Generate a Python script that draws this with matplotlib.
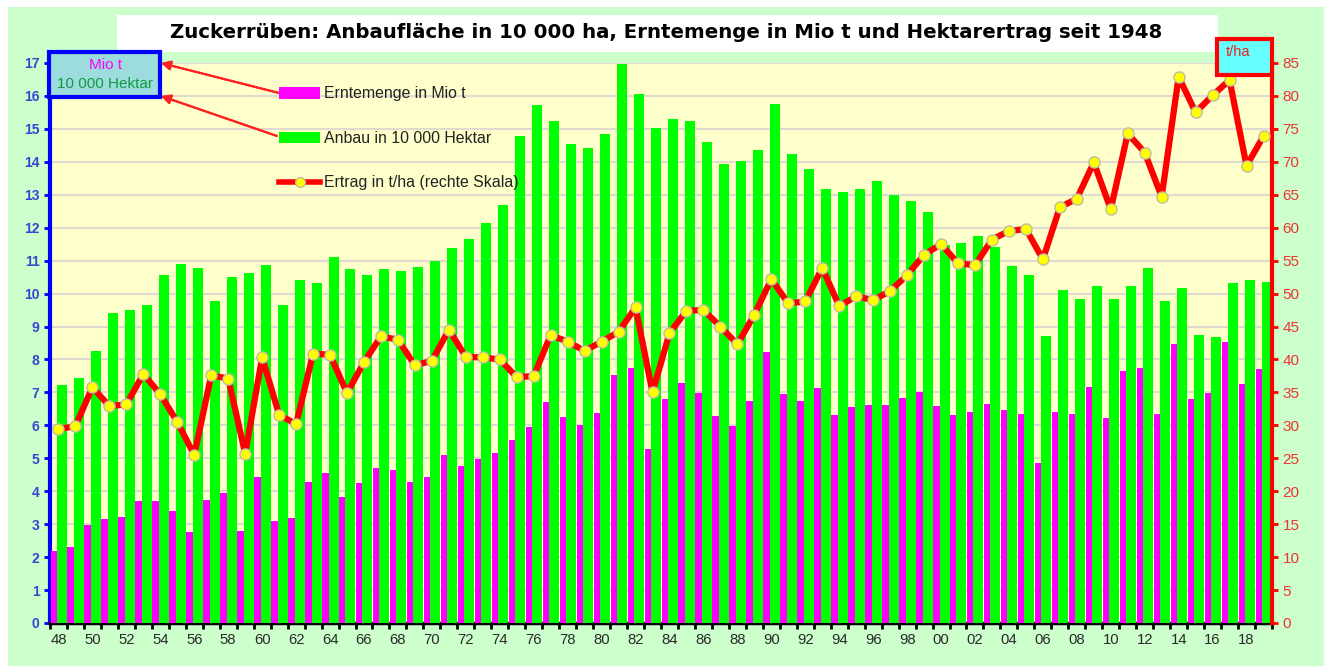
import matplotlib
matplotlib.use("Agg")
import matplotlib.pyplot as plt
import numpy as np
from matplotlib.patches import Rectangle, Patch
from matplotlib.lines import Line2D

plt.rcParams['font.family'] = ['Liberation Sans', 'DejaVu Sans']

year_labels = [f"{y % 100:02d}" for y in range(1948, 2020)]

# Anbau in 10 000 ha
anbau = [7.23, 7.43, 8.27, 9.40, 9.50, 9.65, 10.56, 10.90, 10.79, 9.79,
         10.49, 10.64, 10.87, 9.65, 10.41, 10.31, 11.10, 10.76, 10.56, 10.74,
         10.69, 10.81, 11.00, 11.39, 11.66, 12.13, 12.69, 14.79, 15.73, 15.25,
         14.53, 14.43, 14.85, 16.97, 16.06, 15.04, 15.29, 15.24, 14.59, 13.93,
         14.03, 14.36, 15.75, 14.24, 13.77, 13.18, 13.08, 13.18, 13.42, 13.00,
         12.80, 12.47, 11.46, 11.55, 11.76, 11.42, 10.85, 10.56, 8.71, 10.10,
         9.83, 10.23, 9.84, 10.23, 10.79, 9.78, 10.18, 8.74, 8.67, 10.31,
         10.41, 10.36]

# Erntemenge in Mio t
ernte = [2.20, 2.30, 2.99, 3.16, 3.22, 3.70, 3.70, 3.40, 2.77, 3.73,
         3.94, 2.79, 4.42, 3.11, 3.20, 4.28, 4.54, 3.81, 4.24, 4.72,
         4.64, 4.28, 4.42, 5.11, 4.78, 4.97, 5.16, 5.56, 5.95, 6.70,
         6.24, 6.02, 6.37, 7.53, 7.73, 5.27, 6.79, 7.28, 6.97, 6.28,
         5.98, 6.75, 8.23, 6.95, 6.75, 7.14, 6.31, 6.57, 6.61, 6.61,
         6.83, 7.00, 6.59, 6.31, 6.41, 6.66, 6.46, 6.34, 4.85, 6.41,
         6.35, 7.16, 6.22, 7.64, 7.73, 6.35, 8.48, 6.80, 6.97, 8.53,
         7.25, 7.71]

# Ertrag in t/ha
ertrag = [29.4, 29.9, 35.8, 32.9, 33.2, 37.8, 34.7, 30.5, 25.5, 37.6,
          37.1, 25.7, 40.3, 31.6, 30.2, 40.9, 40.7, 34.9, 39.6, 43.5,
          43.0, 39.1, 39.8, 44.5, 40.4, 40.3, 40.0, 37.3, 37.5, 43.7,
          42.7, 41.3, 42.7, 44.2, 47.9, 35.0, 44.0, 47.4, 47.5, 45.0,
          42.3, 46.8, 52.2, 48.5, 48.8, 53.9, 48.1, 49.6, 49.0, 50.4,
          52.8, 55.9, 57.5, 54.6, 54.3, 58.2, 59.5, 59.8, 55.2, 63.1,
          64.4, 69.9, 62.8, 74.3, 71.4, 64.7, 82.9, 77.5, 80.1, 82.4,
          69.4, 73.9]

W, H = 1324, 666
fig = plt.figure(figsize=(W / 100, H / 100), dpi=100, facecolor='white')

# light green chart background and white title box
fig.patches.append(Rectangle((8 / W, 0), 1 - 8 / W, (H - 7) / H, transform=fig.transFigure,
                             facecolor='#ccffcc', edgecolor='none', zorder=-10))
fig.patches.append(Rectangle((117 / W, (H - 52) / H), (1218 - 117) / W, 37 / H,
                             transform=fig.transFigure, facecolor='white', edgecolor='none', zorder=-9))
fig.text(666 / W, 1 - 33 / H,
         "Zuckerrüben: Anbaufläche in 10 000 ha, Erntemenge in Mio t und Hektarertrag seit 1948",
         ha='center', va='center', fontsize=14.2, fontweight='bold', color='#000000',
         family=['DejaVu Sans'])

ax = fig.add_axes([50 / W, (H - 623) / H, (1272 - 50) / W, (623 - 63) / H])
ax.set_facecolor('#ffffcc')
x = np.arange(len(year_labels))

ax.bar(x - 0.28, ernte, width=0.38, color='#ff00ff', zorder=3)
ax.bar(x + 0.205, anbau, width=0.59, color='#00ff00', zorder=3)

ax.set_xlim(-0.5, len(x) - 0.5)
ax.set_ylim(0, 17)
ax.set_yticks(range(0, 18))
ax.yaxis.grid(True, color='#e2d9d0', linewidth=1.5, zorder=0)
ax.set_axisbelow(True)

ax.set_xticks(x[::2])
ax.set_xticklabels(year_labels[::2], fontsize=10.7, color='#2a2a2a')
ax.set_xticks(np.arange(-0.5, len(x), 1), minor=True)
ax.tick_params(axis='x', which='major', length=0, pad=7)
ax.tick_params(axis='x', which='minor', length=4, width=2, color='black')
ax.tick_params(axis='y', colors='#0000ff', labelcolor='#3a44d0', length=4, width=2,
               labelsize=10)
for lbl in ax.get_yticklabels():
    lbl.set_fontweight('bold')

ax.spines['left'].set_color('#0000ff')
ax.spines['left'].set_linewidth(3)
ax.spines['bottom'].set_color('black')
ax.spines['bottom'].set_linewidth(2.5)
ax.spines['top'].set_visible(False)
ax.spines['right'].set_visible(False)

ax2 = ax.twinx()
ax2.plot(x, ertrag, color='#ff0000', linewidth=4.5, marker='o', markersize=8,
         markerfacecolor='#ffff00', markeredgecolor='#bdbda0', markeredgewidth=1, zorder=5)
ax2.set_ylim(0, 85)
ax2.set_yticks(range(0, 86, 5))
ax2.tick_params(axis='y', colors='#ff0000', labelcolor='#ee3333', length=4, width=2,
                labelsize=11)
ax2.spines['right'].set_color('#ff0000')
ax2.spines['right'].set_linewidth(3)
for s in ['left', 'top', 'bottom']:
    ax2.spines[s].set_visible(False)

# unit boxes
fig.patches.append(Rectangle((49 / W, (H - 97) / H), 111 / W, 45 / H, transform=fig.transFigure,
                             facecolor='#9cdcdc', edgecolor='#0000ff', linewidth=3, zorder=10))
fig.text(105 / W, 1 - 65 / H, "Mio t", ha='center', va='center', fontsize=11,
         color='#ff00ff', zorder=11)
fig.text(105 / W, 1 - 84 / H, "10 000 Hektar", ha='center', va='center', fontsize=11,
         color='#119944', zorder=11)

fig.patches.append(Rectangle((1217 / W, (H - 75) / H), 55 / W, 36 / H, transform=fig.transFigure,
                             facecolor='#66ffff', edgecolor='#ff0000', linewidth=3, zorder=10))
fig.text(1226 / W, 1 - 52 / H, "t/ha", ha='left', va='center', fontsize=10.5,
         color='#ee2222', zorder=11)

# legend
handles = [Patch(facecolor='#ff00ff', edgecolor='none'),
           Patch(facecolor='#00ff00', edgecolor='none'),
           Line2D([0], [0], color='#ff0000', linewidth=4, marker='o', markersize=7,
                  markerfacecolor='#ffff00', markeredgecolor='#bdbda0')]
labels = ["Erntemenge in Mio t", "Anbau in 10 000 Hektar", "Ertrag in t/ha (rechte Skala)"]
fig.legend(handles, labels, loc='upper left', bbox_to_anchor=(265 / W, 1 - 72 / H),
           frameon=False, fontsize=11.4, handlelength=2.6, handleheight=0.75,
           handletextpad=0.2, labelspacing=1.87, labelcolor='#222222')

# arrows from legend to unit box
for (x0, y0), (x1, y1) in [((279, 93), (161, 63)), ((277, 136), (161, 96))]:
    fig.add_artist(plt.annotate("", xy=(x1 / W, 1 - y1 / H), xytext=(x0 / W, 1 - y0 / H),
                                xycoords='figure fraction', textcoords='figure fraction',
                                arrowprops=dict(arrowstyle='-|>', color='#ff2222', lw=1.5,
                                                mutation_scale=14, shrinkA=0, shrinkB=0)))

fig.savefig('out.png', dpi=100, facecolor=fig.get_facecolor())
